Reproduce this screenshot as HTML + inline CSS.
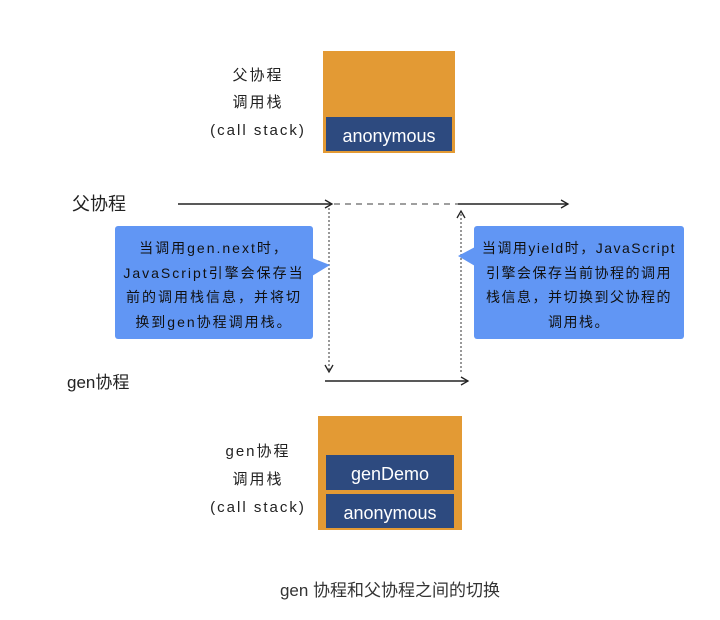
<!DOCTYPE html>
<html><head><meta charset="utf-8"><style>
body{margin:0;background:#fff}
svg text{font-family:"Liberation Sans","Noto Sans CJK SC",sans-serif}
</style></head><body>
<svg width="720" height="615" viewBox="0 0 720 615" xmlns="http://www.w3.org/2000/svg">
<defs><marker id="a" markerWidth="10" markerHeight="10" refX="8" refY="5" orient="auto" markerUnits="userSpaceOnUse"><path d="M1,1 L8,5 L1,9" fill="none" stroke="#222" stroke-width="1.3"/></marker></defs>
<rect x="323" y="51" width="132" height="102" fill="#e39a34"/>
<rect x="326" y="117" width="126" height="34" fill="#2d4a7f"/>
<text x="389" y="142" font-size="18" fill="#fff" text-anchor="middle">anonymous</text>
<g font-size="15" fill="#222" text-anchor="middle" letter-spacing="2">
<text x="258" y="80">父协程</text>
<text x="258" y="107">调用栈</text>
<text x="258" y="135">(call stack)</text>
</g>
<rect x="318" y="416" width="144" height="114" fill="#e39a34"/>
<rect x="326" y="455" width="128" height="35" fill="#2d4a7f"/>
<rect x="326" y="494" width="128" height="34" fill="#2d4a7f"/>
<text x="390" y="480" font-size="18" fill="#fff" text-anchor="middle">genDemo</text>
<text x="390" y="519" font-size="18" fill="#fff" text-anchor="middle">anonymous</text>
<g font-size="15" fill="#222" text-anchor="middle" letter-spacing="2">
<text x="258" y="456">gen协程</text>
<text x="258" y="484">调用栈</text>
<text x="258" y="512">(call stack)</text>
</g>
<text x="72" y="210" font-size="18" fill="#222">父协程</text>
<text x="67" y="388" font-size="17" fill="#222">gen协程</text>
<line x1="178" y1="204" x2="332" y2="204" stroke="#222" stroke-width="1.5" marker-end="url(#a)"/>
<line x1="334" y1="204" x2="458" y2="204" stroke="#666" stroke-width="1.3" stroke-dasharray="6,5"/>
<line x1="458" y1="204" x2="568" y2="204" stroke="#222" stroke-width="1.5" marker-end="url(#a)"/>
<line x1="329" y1="208" x2="329" y2="372" stroke="#333" stroke-width="1" stroke-dasharray="2,2" marker-end="url(#a)"/>
<line x1="461" y1="372" x2="461" y2="211" stroke="#333" stroke-width="1" stroke-dasharray="2,2" marker-end="url(#a)"/>
<line x1="325" y1="381" x2="468" y2="381" stroke="#222" stroke-width="1.5" marker-end="url(#a)"/>
<rect x="115" y="226" width="198" height="113" rx="3" fill="#6196f4"/>
<path d="M312,258 L330,265 L312,276 Z" fill="#6196f4"/>
<g font-size="14" fill="#111" text-anchor="middle" letter-spacing="2">
<text x="214" y="253">当调用gen.next时，</text>
<text x="214" y="278">JavaScript引擎会保存当</text>
<text x="214" y="302">前的调用栈信息，并将切</text>
<text x="214" y="327">换到gen协程调用栈。</text>
</g>
<rect x="474" y="226" width="210" height="113" rx="3" fill="#6196f4"/>
<path d="M475,247 L458,256 L475,266 Z" fill="#6196f4"/>
<g font-size="14" fill="#111" text-anchor="middle" letter-spacing="1.5">
<text x="579" y="253">当调用yield时，JavaScript</text>
<text x="579" y="278">引擎会保存当前协程的调用</text>
<text x="579" y="302">栈信息，并切换到父协程的</text>
<text x="579" y="327">调用栈。</text>
</g>
<text x="390" y="596" font-size="17" fill="#333" text-anchor="middle">gen 协程和父协程之间的切换</text>
</svg>
</body></html>
